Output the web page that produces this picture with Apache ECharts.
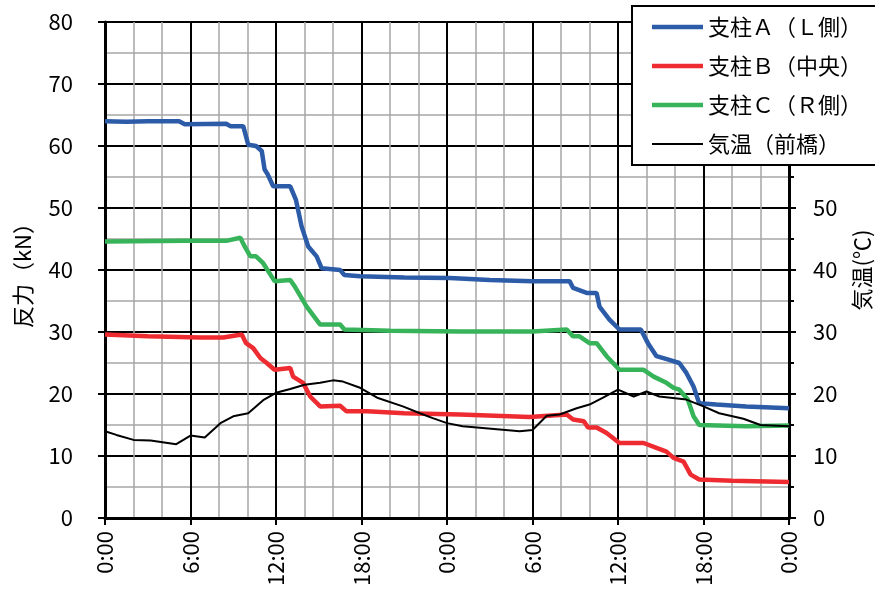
<!DOCTYPE html>
<html><head><meta charset="utf-8">
<script src="https://cdn.jsdelivr.net/npm/echarts@6/dist/echarts.min.js"></script>
<style>html,body{margin:0;padding:0;background:#fff}#c{width:875px;height:595px}</style>
</head><body><div id="c"></div>
<script>
// ---- data ----
const seriesNames = ['支柱Ａ（Ｌ側）', '支柱Ｂ（中央）', '支柱Ｃ（Ｒ側）', '気温（前橋）'];
const xTickLabels = ['0:00','6:00','12:00','18:00','0:00','6:00','12:00','18:00','0:00'];
const leftAxisName = '反力（kN）';
const rightAxisName = '気温(℃)';

const aHours  = [0,1.5,3,5.2,5.6,8.5,8.8,9.7,9.9,10.05,10.6,11.0,11.1,11.2,11.4,11.8,13.0,13.4,13.8,14.26,14.85,15.2,16.5,16.8,17.9,21,24.2,27,30,32.6,32.85,33.8,34.5,34.7,35.4,36.1,37.6,38.1,38.7,39.6,40.3,40.8,41.3,41.7,42.9,45,48];
const aValues = [64.0,63.9,64.0,64.0,63.5,63.6,63.2,63.2,61.5,60.2,60.0,59.2,58.9,56.2,55.5,53.5,53.5,51.3,47.0,43.8,42.2,40.3,40.0,39.2,39.0,38.8,38.7,38.4,38.2,38.2,37.1,36.3,36.3,34.1,32.0,30.4,30.4,28.2,26.1,25.5,25.0,23.4,21.2,18.5,18.3,18.0,17.7];

const bHours  = [0,3,6.7,8.3,9.6,9.9,10.4,10.9,11.35,11.9,13.0,13.2,13.9,14.4,15.1,16.5,16.95,18.4,21,24.9,29.8,32.4,32.85,33.6,33.9,34.5,35.2,36.1,37.8,38.7,39.4,39.9,40.6,41.1,41.7,44,48];
const bValues = [29.6,29.3,29.1,29.1,29.6,28.2,27.4,25.8,25.0,23.9,24.2,22.8,21.8,19.6,18.0,18.1,17.2,17.2,16.9,16.7,16.3,16.7,15.9,15.6,14.6,14.6,13.7,12.1,12.1,11.3,10.7,9.7,9.1,7.0,6.2,6.0,5.8];

const cHours  = [0,5.7,8.5,9.5,9.8,10.2,10.6,11.1,11.9,13.0,13.3,14.15,15.1,16.5,16.8,20,24.9,30,32.4,32.85,33.3,34.0,34.5,35.2,36.1,37.8,38.5,39.4,39.9,40.3,40.9,41.3,41.7,45,48];
const cValues = [44.6,44.7,44.7,45.2,43.8,42.2,42.2,41.1,38.2,38.4,37.4,34.1,31.2,31.2,30.4,30.2,30.1,30.1,30.4,29.3,29.3,28.2,28.2,26.1,23.9,23.9,22.8,21.8,21.0,20.7,19.1,16.4,15.0,14.8,14.9];

const tHours  = [0,0.8,2.0,3.2,5.0,6.0,7.0,8.1,9.0,10.05,11.1,12.0,13.0,14.0,15.1,16.0,16.7,17.9,19.1,20.9,22.1,23.0,24.0,25.1,29.1,30.0,31.0,31.9,33.1,34.0,34.95,36.0,37.1,38.0,38.9,40.8,42.0,43.1,44.8,46.0,48];
const tValues = [14.0,13.4,12.6,12.5,11.9,13.3,13.0,15.3,16.4,16.9,19.0,20.2,20.8,21.5,21.8,22.2,22.0,21.0,19.4,18.0,16.9,16.1,15.3,14.8,14.0,14.2,16.5,16.7,17.7,18.3,19.4,20.7,19.6,20.4,19.6,19.1,18.0,16.9,16.0,15.0,14.8];

// ---- build ----
function zip(h, v){ return h.map((x,i)=>[x, v[i]]); }
const FONT = 'Noto Sans CJK JP';
const chart = echarts.init(document.getElementById('c'), null, {renderer:'canvas'});
const colors = ['#2C5BA8', '#EE2B30', '#37B35A', '#000000'];
// legend line-sample icons (band inside a 51x14 box)
const thickIcon = 'path://M0,0L51,0L51,0.01L0,0.01Z M0,4.8L51,4.8L51,9.2L0,9.2Z M0,13.99L51,13.99L51,14L0,14Z';
const thinIcon  = 'path://M0,0L51,0L51,0.01L0,0.01Z M0,6L51,6L51,8L0,8Z M0,13.99L51,13.99L51,14L0,14Z';

chart.setOption({
  animation: false,
  textStyle: {fontFamily: FONT},
  grid: {left: 105, right: 86, top: 22, bottom: 77, containLabel: false, outerBoundsMode: 'none'},
  legend: {
    orient: 'vertical', left: 632, top: 6,
    backgroundColor: '#fff', borderColor: '#000', borderWidth: 2,
    padding: [10, 40, 10, 20], itemGap: 17, itemWidth: 51, itemHeight: 14,
    textStyle: {fontFamily: FONT, fontSize: 22, color: '#000'},
    data: seriesNames.map((n, i) => ({name: n, icon: i === 3 ? thinIcon : thickIcon, itemStyle: {color: colors[i], borderWidth: 0}})),
    z: 10
  },
  xAxis: {
    type: 'value', min: 0, max: 48, interval: 6,
    axisLine: {lineStyle: {color: '#000', width: 3}},
    axisTick: {show: true, length: 7, lineStyle: {color: '#000', width: 2}},
    axisLabel: {rotate: 90, margin: 13, fontSize: 22, color: '#000', fontFamily: FONT,
      formatter: (v) => xTickLabels[Math.round(v/6)]},
    splitLine: {show: true, lineStyle: {color: '#000', width: 2}},
    minorTick: {show: false, splitNumber: 3},
    minorSplitLine: {show: true, lineStyle: {color: '#A6A6A6', width: 1.5}}
  },
  yAxis: [{
    type: 'value', min: 0, max: 80, interval: 10, position: 'left',
    name: leftAxisName, nameLocation: 'middle', nameRotate: 90, nameGap: 71,
    nameTextStyle: {fontSize: 22, color: '#000', fontFamily: FONT},
    axisLine: {show: true, lineStyle: {color: '#000', width: 3}},
    axisTick: {show: true, length: 7, lineStyle: {color: '#000', width: 2}},
    axisLabel: {margin: 32, fontSize: 22, color: '#000', fontFamily: FONT},
    splitLine: {show: true, lineStyle: {color: '#000', width: 2}},
    minorTick: {show: false, splitNumber: 2},
    minorSplitLine: {show: true, lineStyle: {color: '#A6A6A6', width: 1.5}}
  }, {
    type: 'value', min: 0, max: 80, interval: 10, position: 'right',
    name: rightAxisName, nameLocation: 'middle', nameRotate: 90, nameGap: 62,
    nameTextStyle: {fontSize: 22, color: '#000', fontFamily: FONT},
    axisLine: {show: true, lineStyle: {color: '#000', width: 3}},
    axisTick: {show: true, length: 7, lineStyle: {color: '#000', width: 2}},
    axisLabel: {margin: 24, fontSize: 22, color: '#000', fontFamily: FONT},
    splitLine: {show: false},
    minorTick: {show: true, splitNumber: 2, length: 5, lineStyle: {color: '#000', width: 2}},
    minorSplitLine: {show: false}
  }],
  series: [
    {name: seriesNames[0], type: 'line', data: zip(aHours, aValues), showSymbol: false, symbol: 'none',
      lineStyle: {color: colors[0], width: 4.5}, itemStyle: {color: colors[0]}, z: 3},
    {name: seriesNames[1], type: 'line', data: zip(bHours, bValues), showSymbol: false, symbol: 'none',
      lineStyle: {color: colors[1], width: 4.5}, itemStyle: {color: colors[1]}, z: 3},
    {name: seriesNames[2], type: 'line', data: zip(cHours, cValues), showSymbol: false, symbol: 'none',
      lineStyle: {color: colors[2], width: 4.5}, itemStyle: {color: colors[2]}, z: 3},
    {name: seriesNames[3], type: 'line', yAxisIndex: 1, data: zip(tHours, tValues), showSymbol: false, symbol: 'none',
      lineStyle: {color: colors[3], width: 2}, itemStyle: {color: colors[3]}, z: 4}
  ]
});
</script>
</body></html>
